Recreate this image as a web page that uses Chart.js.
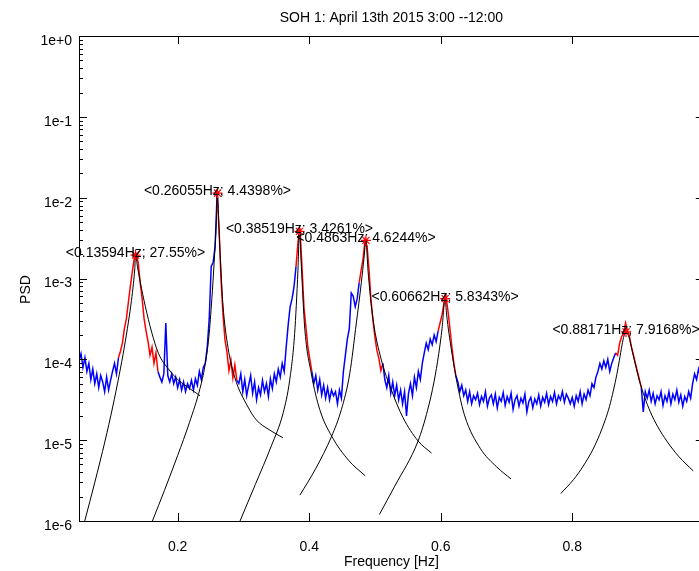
<!DOCTYPE html>
<html>
<head>
<meta charset="utf-8">
<script src="https://cdn.jsdelivr.net/npm/chart.js@4.4.1/dist/chart.umd.min.js"></script>
<style>
  html, body { margin: 0; padding: 0; background: #fff; overflow: hidden; }
  canvas { display: block; }
</style>
</head>
<body>
<canvas id="psdChart" width="710" height="571"></canvas>
<script>
// --- data ---
var chartTitle = 'SOH 1: April 13th 2015 3:00 --12:00';

// frequency grid of the spectrum (Hz)
var freqStart = 0.05;
var freqStep = 0.003;

// spectrum, log10(PSD), one value per grid bin
var psdLog10 = [
  -4.02, -3.93, -4.10, -3.98, -4.15, -4.05, -4.25, -4.12, -4.30, -4.18, -4.35, -4.20,
  -4.28, -4.40, -4.22, -4.38, -4.26, -4.15, -4.05, -4.18,
  -3.98, -3.90, -3.80, -3.62, -3.50, -3.30, -3.10, -2.92, -2.75, -2.70, -2.80, -3.05, -3.25, -3.50, -3.65, -3.78, -3.95, -3.85, -4.05, -3.92, -4.15,
  -4.22, -4.28, -4.18, -3.55,
  -4.20, -4.28, -4.18, -4.30, -4.22, -4.35, -4.25, -4.38, -4.28, -4.40, -4.30, -4.36, -4.26, -4.38, -4.24, -4.32, -4.15, -4.25, -4.10,
  -4.05, -3.85, -3.50, -2.85, -2.80, -2.60, -1.95, -2.40, -3.02, -3.45, -3.76, -3.91, -4.14, -4.01, -4.23, -4.07, -4.26,
  -4.30, -4.18, -4.40, -4.25, -4.45, -4.32, -4.20, -4.42, -4.28, -4.50, -4.35, -4.44, -4.26, -4.40, -4.30, -4.46, -4.24, -4.36, -4.18,
  -4.28, -4.12, -4.22, -4.05, -4.15, -3.85, -3.58, -3.35, -3.25, -3.10, -2.85, -2.55, -2.38, -2.85, -3.35, -3.60, -3.85, -4.00, -4.15,
  -4.30, -4.20, -4.38, -4.25, -4.44, -4.32, -4.48, -4.35, -4.50, -4.38, -4.45,
  -4.40, -4.55, -4.38, -4.48,
  -4.15, -3.95, -3.75, -3.62, -3.18, -3.22, -3.35, -3.25, -3.05, -2.90, -2.75, -2.52, -2.60, -2.90,
  -3.27, -3.52, -3.73, -3.89, -3.99, -4.14, -4.05,
  -4.25, -4.35, -4.20, -4.42, -4.28, -4.45, -4.32, -4.50, -4.38, -4.55, -4.40, -4.70, -4.42, -4.30, -4.45, -4.22, -4.35, -4.15, -4.25, -4.05,
  -3.92, -3.80, -3.88, -3.75, -3.82, -3.70, -3.78, -3.65, -3.55, -3.45, -3.30,
  -3.22, -3.40, -3.62, -3.85, -4.05, -4.20, -4.28,
  -4.40, -4.32, -4.45, -4.38, -4.52, -4.40, -4.55, -4.45,
  -4.50, -4.42, -4.56, -4.46, -4.52, -4.40, -4.58, -4.48, -4.44, -4.55, -4.43, -4.60, -4.47, -4.52, -4.41, -4.57,
  -4.46, -4.53, -4.42, -4.62, -4.50, -4.45, -4.58, -4.48, -4.54, -4.43, -4.65, -4.52, -4.47, -4.60, -4.49, -4.55,
  -4.44, -4.58, -4.47, -4.53, -4.42, -4.56, -4.46, -4.52, -4.41, -4.55, -4.45, -4.50, -4.40, -4.53, -4.43, -4.48,
  -4.55, -4.47, -4.58, -4.45, -4.52, -4.40, -4.55, -4.43, -4.50, -4.38, -4.45,
  -4.30, -4.35, -4.22, -4.15, -4.05, -4.12, -4.02, -4.10, -4.00, -4.15, -4.05, -3.98,
  -3.92, -3.95, -3.80, -3.72, -3.68, -3.55, -3.65, -3.72, -3.85, -3.95, -4.05, -4.15, -4.25, -4.35,
  -4.65, -4.40, -4.48, -4.38, -4.52, -4.42, -4.55, -4.45, -4.50, -4.40, -4.57, -4.45, -4.52, -4.40, -4.55, -4.43,
  -4.50, -4.38, -4.53, -4.44, -4.58, -4.46, -4.52, -4.40, -4.48, -4.30, -4.18, -4.25, -4.12, -4.20, -4.15
];

// frequency windows used for each fit (drawn in red)
var fitLow  = [0.110, 0.260, 0.380, 0.476, 0.596, 0.866];
var fitHigh = [0.170, 0.290, 0.404, 0.512, 0.623, 0.905];

// peaks: frequency, PSD, share
var peakFreq = [0.13594, 0.26055, 0.38519, 0.4863, 0.60662, 0.88171];
var peakPsd  = [1.95e-3, 1.14e-2, 3.83e-3, 2.96e-3, 5.64e-4, 2.18e-4];
var peakPct  = [27.55, 4.4398, 3.4261, 4.6244, 5.8343, 7.9168];

// fitted peak curves, [freq, log10(PSD)]
var fit1 = [[0.0587,-6.0],[0.0741,-5.52],[0.0896,-5.01],[0.1012,-4.59],[0.1112,-4.19],[0.1189,-3.85],[0.1251,-3.54],[0.1298,-3.27],[0.1328,-3.06],[0.1348,-2.88],[0.13594,-2.71],
            [0.139,-2.86],[0.143,-3.04],[0.151,-3.35],[0.160,-3.65],[0.171,-3.93],[0.186,-4.12],[0.2015,-4.26],[0.218,-4.36],[0.234,-4.45]];
var fit2 = [[0.1616,-6.0],[0.180,-5.62],[0.200,-5.19],[0.218,-4.78],[0.234,-4.36],[0.2415,-4.08],[0.2475,-3.72],[0.2520,-3.25],[0.2555,-2.80],[0.2585,-2.35],[0.26055,-1.943],
            [0.2625,-2.30],[0.2638,-2.55],[0.2665,-3.00],[0.2689,-3.33],[0.2765,-3.85],[0.2867,-4.22],[0.307,-4.59],[0.3197,-4.75],[0.339,-4.87],[0.360,-4.97]];
var fit3 = [[0.2948,-6.0],[0.318,-5.55],[0.3425,-5.07],[0.3605,-4.66],[0.3703,-4.26],[0.3779,-3.68],[0.3829,-2.90],[0.38519,-2.417],
            [0.3881,-2.85],[0.3931,-3.60],[0.4033,-4.18],[0.416,-4.62],[0.4342,-4.95],[0.460,-5.25],[0.485,-5.44]];
var fit4 = [[0.3859,-5.68],[0.410,-5.35],[0.4342,-4.95],[0.449,-4.62],[0.4616,-4.18],[0.4717,-3.55],[0.4793,-3.05],[0.4833,-2.75],[0.4863,-2.528],
            [0.4894,-2.90],[0.497,-3.50],[0.5098,-4.01],[0.525,-4.38],[0.5426,-4.72],[0.5656,-5.01],[0.586,-5.16]];
var fit5 = [[0.5067,-5.92],[0.530,-5.57],[0.5656,-5.01],[0.580,-4.63],[0.590,-4.27],[0.597,-3.93],[0.602,-3.62],[0.60662,-3.249],
            [0.609,-3.45],[0.616,-3.87],[0.626,-4.34],[0.6365,-4.70],[0.660,-5.10],[0.685,-5.33],[0.7069,-5.48]];
var fit6 = [[0.7825,-5.66],[0.8017,-5.49],[0.8167,-5.32],[0.8317,-5.11],[0.8417,-4.93],[0.8497,-4.76],[0.8567,-4.58],[0.8627,-4.38],[0.8677,-4.19],[0.8717,-4.01],[0.8757,-3.82],[0.8787,-3.71],[0.88171,-3.662],
            [0.8847,-3.69],[0.8877,-3.77],[0.8917,-3.91],[0.8967,-4.09],[0.9027,-4.28],[0.9097,-4.46],[0.9187,-4.65],[0.9297,-4.83],[0.9437,-5.01],[0.9617,-5.20],[0.9839,-5.38]];
var fits = [fit1, fit2, fit3, fit4, fit5, fit6];

var xTicks = [0.2, 0.4, 0.6, 0.8];
var yTicks = [1e-6, 1e-5, 1e-4, 1e-3, 1e-2, 1e-1, 1];

// --- build datasets ---
var psdPoints = psdLog10.map(function (v, i) {
  return { x: +(freqStart + i * freqStep).toFixed(4), y: Math.pow(10, v) };
});

function inFit(f) {
  for (var k = 0; k < fitLow.length; k++) {
    if (f >= fitLow[k] - 1e-9 && f <= fitHigh[k] + 1e-9) return true;
  }
  return false;
}

var FONT = '"Liberation Sans", Arial, Helvetica, sans-serif';
Chart.defaults.font.family = FONT;
Chart.defaults.font.size = 14;
Chart.defaults.color = '#000';

var datasets = [];
datasets.push({
  label: 'peaks',
  data: peakFreq.map(function (f, i) { return { x: f, y: peakPsd[i] }; }),
  showLine: false,
  pointStyle: 'star',
  pointRadius: 5,
  pointBorderColor: '#ff0000',
  pointBackgroundColor: '#ff0000',
  pointBorderWidth: 1.2,
  order: 0
});
fits.forEach(function (fit, k) {
  datasets.push({
    label: 'fit ' + (k + 1),
    data: fit.map(function (p) { return { x: p[0], y: Math.pow(10, p[1]) }; }),
    borderColor: '#000',
    borderWidth: 1,
    pointRadius: 0,
    cubicInterpolationMode: 'monotone',
    order: 1
  });
});
datasets.push({
  label: 'PSD',
  data: psdPoints,
  borderColor: '#0000ff',
  borderWidth: 1.5,
  pointRadius: 0,
  tension: 0,
  segment: {
    borderColor: function (c) {
      return (inFit(c.p0.parsed.x) && inFit(c.p1.parsed.x)) ? '#ff0000' : '#0000ff';
    }
  },
  order: 2
});

// frame, inward ticks, peak labels, titles
var framePlugin = {
  id: 'frame',
  afterDatasetsDraw: function (chart) {
    var ctx = chart.ctx, a = chart.chartArea;
    var x = chart.scales.x, y = chart.scales.y;
    ctx.save();
    ctx.strokeStyle = '#000';
    ctx.lineWidth = 1;
    ctx.strokeRect(Math.round(a.left) + 0.5, Math.round(a.top) + 0.5,
                   Math.round(a.right - a.left), Math.round(a.bottom - a.top));
    ctx.beginPath();
    xTicks.forEach(function (v) {
      var px = Math.round(x.getPixelForValue(v)) + 0.5;
      ctx.moveTo(px, a.bottom); ctx.lineTo(px, a.bottom - 8);
      ctx.moveTo(px, a.top); ctx.lineTo(px, a.top + 8);
    });
    for (var e = -6; e <= 0; e++) {
      for (var m = 1; m <= 9; m++) {
        var v = m * Math.pow(10, e);
        if (v > 1.0000001) break;
        var py = Math.round(y.getPixelForValue(v)) + 0.5;
        var len = (m === 1) ? 8 : 4;
        ctx.moveTo(a.left, py); ctx.lineTo(a.left + len, py);
        ctx.moveTo(a.right, py); ctx.lineTo(a.right - len, py);
      }
    }
    ctx.stroke();

    ctx.fillStyle = '#000';
    ctx.font = '14px ' + FONT;
    ctx.textAlign = 'center';
    ctx.textBaseline = 'alphabetic';
    peakFreq.forEach(function (f, i) {
      var txt = '<' + f + 'Hz; ' + peakPct[i] + '%>';
      ctx.fillText(txt, x.getPixelForValue(f), y.getPixelForValue(peakPsd[i]) + 2);
    });
    ctx.textBaseline = 'middle';
    ctx.fillText(chartTitle, (a.left + a.right) / 2, 18);

    ctx.translate(26, (a.top + a.bottom) / 2 + 11);
    ctx.rotate(-Math.PI / 2);
    ctx.fillText('PSD', 0, 0);
    ctx.restore();
  }
};

new Chart(document.getElementById('psdChart'), {
  type: 'line',
  data: { datasets: datasets },
  options: {
    responsive: false,
    animation: false,
    layout: { padding: { top: 36, right: 6, left: 0, bottom: 0 } },
    plugins: {
      legend: { display: false },
      tooltip: { enabled: false },
      title: { display: false }
    },
    scales: {
      x: {
        type: 'linear',
        min: 0.05,
        max: 1.0,
        grid: { display: false, drawTicks: false },
        border: { display: false },
        afterBuildTicks: function (s) { s.ticks = xTicks.map(function (v) { return { value: v }; }); },
        afterFit: function (s) { s.height = 50; },
        ticks: {
          autoSkip: false,
          maxRotation: 0,
          padding: 18,
          callback: function (v) { return v.toFixed(1); }
        },
        title: { display: true, text: 'Frequency [Hz]', padding: { top: 0, bottom: 0 } }
      },
      y: {
        type: 'logarithmic',
        min: 1e-6,
        max: 1,
        grid: { display: false, drawTicks: false },
        border: { display: false },
        afterBuildTicks: function (s) { s.ticks = yTicks.map(function (v) { return { value: v }; }); },
        afterFit: function (s) { s.width = 79; },
        ticks: {
          autoSkip: false,
          padding: 7,
          labelOffset: 5,
          callback: function (v) {
            var e = Math.round(Math.log10(v));
            return '1e' + (e >= 0 ? '+' : '') + e;
          }
        },
        title: { display: false }
      }
    }
  },
  plugins: [framePlugin]
});
</script>
</body>
</html>
